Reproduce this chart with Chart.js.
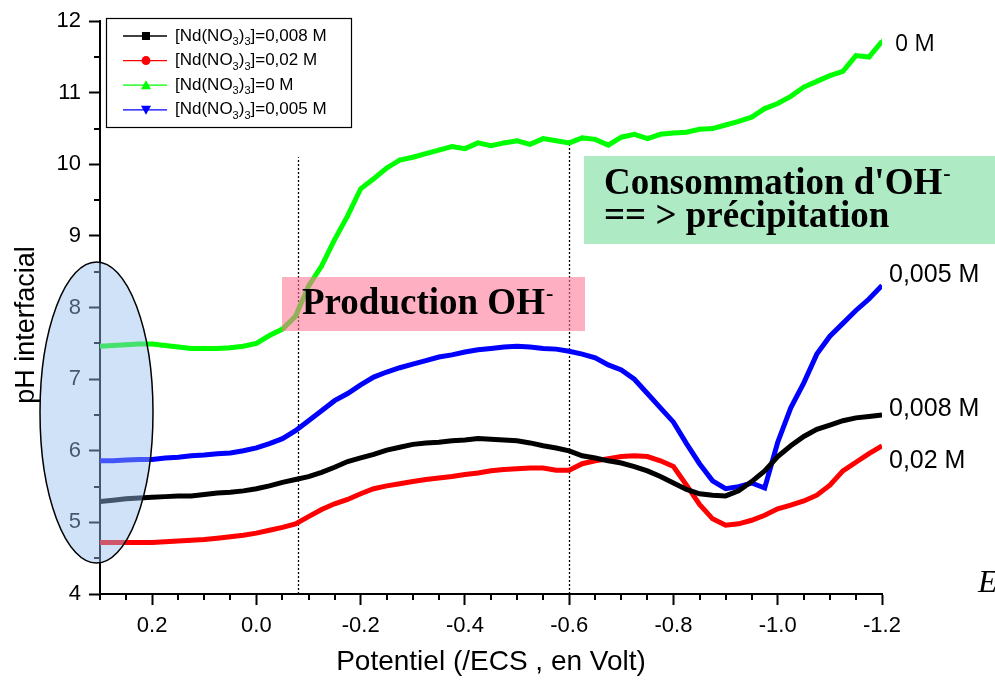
<!DOCTYPE html>
<html>
<head>
<meta charset="utf-8">
<script src="https://cdn.jsdelivr.net/npm/chart.js@4.4.1/dist/chart.umd.min.js"></script>
<style>
  html, body { margin: 0; padding: 0; background: #fff; }
  canvas { display: block; }
</style>
</head>
<body>
<canvas id="c" width="995" height="683"></canvas>
<script>
// Applied potential (V vs SCE), cathodic sweep
const potentials = [
  0.3, 0.275, 0.25, 0.225, 0.2, 0.175, 0.15, 0.125, 0.1, 0.075, 0.05, 0.025, 0,
  -0.025, -0.05, -0.075, -0.1, -0.125, -0.15, -0.175, -0.2, -0.225, -0.25, -0.275, -0.3,
  -0.325, -0.35, -0.375, -0.4, -0.425, -0.45, -0.475, -0.5, -0.525, -0.55, -0.575, -0.6,
  -0.625, -0.65, -0.675, -0.7, -0.725, -0.75, -0.775, -0.8, -0.825, -0.85, -0.875, -0.9,
  -0.925, -0.95, -0.975, -1.0, -1.025, -1.05, -1.075, -1.1, -1.125, -1.15, -1.175, -1.2
];

// Interfacial pH for each Nd(NO3)3 concentration
const ph0008 = [
  5.29, 5.31, 5.33, 5.34, 5.35, 5.36, 5.37, 5.37, 5.39, 5.41, 5.42, 5.44, 5.47,
  5.51, 5.56, 5.60, 5.64, 5.70, 5.77, 5.85, 5.90, 5.95, 6.01, 6.05, 6.09,
  6.11, 6.12, 6.14, 6.15, 6.17, 6.16, 6.15, 6.14, 6.11, 6.07, 6.04, 6.00,
  5.93, 5.90, 5.86, 5.83, 5.78, 5.72, 5.64, 5.55, 5.46, 5.40, 5.38, 5.37,
  5.44, 5.57, 5.72, 5.92, 6.07, 6.20, 6.30, 6.36, 6.42, 6.46, 6.48, 6.50
];
const ph002 = [
  4.72, 4.72, 4.72, 4.72, 4.72, 4.73, 4.74, 4.75, 4.76, 4.78, 4.80, 4.82, 4.85,
  4.89, 4.93, 4.98, 5.08, 5.18, 5.26, 5.32, 5.40, 5.47, 5.51, 5.54, 5.57,
  5.60, 5.62, 5.64, 5.67, 5.69, 5.72, 5.74, 5.75, 5.76, 5.76, 5.73, 5.73,
  5.82, 5.86, 5.89, 5.92, 5.93, 5.92, 5.86, 5.78, 5.52, 5.25, 5.05, 4.96,
  4.98, 5.03, 5.10, 5.19, 5.24, 5.30, 5.38, 5.52, 5.72, 5.84, 5.96, 6.07
];
const ph0 = [
  7.46, 7.47, 7.48, 7.49, 7.49, 7.47, 7.45, 7.43, 7.43, 7.43, 7.44, 7.46, 7.50,
  7.61, 7.70, 7.88, 8.30, 8.58, 8.95, 9.28, 9.66, 9.80, 9.95, 10.06, 10.10,
  10.15, 10.20, 10.25, 10.22, 10.30, 10.26, 10.30, 10.33, 10.28, 10.36, 10.33, 10.30,
  10.37, 10.35, 10.27, 10.38, 10.42, 10.36, 10.42, 10.44, 10.45, 10.49, 10.50, 10.55,
  10.60, 10.66, 10.78, 10.85, 10.95, 11.08, 11.16, 11.24, 11.30, 11.52, 11.50, 11.72
];
const ph0005 = [
  5.86, 5.86, 5.87, 5.88, 5.88, 5.90, 5.91, 5.93, 5.94, 5.96, 5.97, 6.00, 6.04,
  6.10, 6.17, 6.28, 6.42, 6.56, 6.70, 6.80, 6.92, 7.03, 7.10, 7.16, 7.21,
  7.26, 7.31, 7.34, 7.38, 7.41, 7.43, 7.45, 7.46, 7.45, 7.43, 7.42, 7.39,
  7.35, 7.30, 7.20, 7.13, 7.00, 6.80, 6.60, 6.40, 6.10, 5.82, 5.58, 5.47,
  5.50, 5.55, 5.48, 6.12, 6.60, 6.95, 7.35, 7.60, 7.78, 7.96, 8.12, 8.31
];

// Concentrations (M), in legend order
const concentrations = ['0,008', '0,02', '0', '0,005'];

// Axis ticks
const xMajorTicks = [0.2, 0.0, -0.2, -0.4, -0.6, -0.8, -1.0, -1.2];
const xMinorTicks = [0.3, 0.25, 0.15, 0.1, 0.05, -0.05, -0.1, -0.15, -0.25, -0.3, -0.35, -0.45, -0.5, -0.55,
  -0.65, -0.7, -0.75, -0.85, -0.9, -0.95, -1.05, -1.1, -1.15];
const yMajorTicks = [4, 5, 6, 7, 8, 9, 10, 11, 12];
const yMinorTicks = [4.5, 5.5, 6.5, 7.5, 8.5, 9.5, 10.5, 11.5];

const seriesValues = [ph0008, ph002, ph0, ph0005];
const seriesStyle = [
  { color: '#000000', marker: 'rect' },
  { color: '#ff0000', marker: 'circle' },
  { color: '#00ff00', marker: 'triangle' },
  { color: '#0000ff', marker: 'triangleDown' }
];

const SANS = "'Liberation Sans', Arial, sans-serif";
const SERIF = "'Liberation Serif', 'Times New Roman', serif";

function drawMarker(ctx, kind, cx, cy, color) {
  ctx.fillStyle = color;
  ctx.beginPath();
  if (kind === 'rect') {
    ctx.rect(cx - 4, cy - 4, 8, 8);
  } else if (kind === 'circle') {
    ctx.arc(cx, cy, 4.5, 0, Math.PI * 2);
  } else if (kind === 'triangle') {
    ctx.moveTo(cx, cy - 5); ctx.lineTo(cx + 5, cy + 4); ctx.lineTo(cx - 5, cy + 4); ctx.closePath();
  } else {
    ctx.moveTo(cx, cy + 5); ctx.lineTo(cx + 5, cy - 4); ctx.lineTo(cx - 5, cy - 4); ctx.closePath();
  }
  ctx.fill();
}

// Text followed by a raised superscript
function textWithSup(ctx, main, sup, x, y, font, supFont, dy) {
  ctx.font = font;
  ctx.fillText(main, x, y);
  const w = ctx.measureText(main).width;
  ctx.font = supFont;
  ctx.fillText(sup, x + w + 1, y - dy);
}

const decor = {
  id: 'decor',
  beforeDatasetsDraw(chart) {
    const { ctx, scales: { x, y } } = chart;
    ctx.save();
    ctx.strokeStyle = '#000';
    ctx.lineWidth = 1.3;
    ctx.setLineDash([2, 2]);
    [{ at: -0.08, top: 10.1 }, { at: -0.6, top: 10.3 }].forEach(g => {
      const px = Math.round(x.getPixelForValue(g.at)) + 0.5;
      ctx.beginPath();
      ctx.moveTo(px, y.getPixelForValue(4));
      ctx.lineTo(px, y.getPixelForValue(g.top));
      ctx.stroke();
    });
    ctx.restore();
  },
  afterDatasetsDraw(chart) {
    const { ctx } = chart;
    ctx.save();

    // "Production OH-" band (translucent, lies over the curve)
    ctx.fillStyle = 'rgba(255,118,150,0.58)';
    ctx.fillRect(282, 277, 303, 54);
    ctx.fillStyle = '#000';
    ctx.textBaseline = 'alphabetic';
    ctx.textAlign = 'left';
    textWithSup(ctx, 'Production OH', '-', 302, 314, 'bold 37px ' + SERIF, 'bold 22px ' + SERIF, 14);

    // "Consommation d'OH- == > précipitation" band
    ctx.fillStyle = '#aeeac4';
    ctx.fillRect(584, 156, 420, 88);
    ctx.fillStyle = '#000';
    textWithSup(ctx, "Consommation d'OH", '-', 604, 194, 'bold 37px ' + SERIF, 'bold 22px ' + SERIF, 14);
    ctx.font = 'bold 37px ' + SERIF;
    ctx.fillText('== > précipitation', 604, 227);

    // Concentration labels at the right end of the curves
    ctx.textBaseline = 'middle';
    ctx.font = "23px 'Open Sans', " + SANS;
    ctx.fillText(concentrations[2] + ' M', 895, 44);
    ctx.font = '25px ' + SANS;
    ctx.fillText(concentrations[3] + ' M', 889, 275);
    ctx.fillText(concentrations[0] + ' M', 889, 409);
    ctx.fillText(concentrations[1] + ' M', 889, 461);

    // Partially visible symbol at the lower right edge
    ctx.textBaseline = 'alphabetic';
    ctx.font = 'italic 32px ' + SERIF;
    ctx.fillText('E', 978, 592);

    // Legend
    ctx.fillStyle = '#fff';
    ctx.fillRect(106, 18, 246, 110);
    ctx.strokeStyle = '#000';
    ctx.lineWidth = 1.2;
    ctx.strokeRect(106.5, 18.5, 245, 109);
    concentrations.forEach((c, i) => {
      const cy = 36 + i * 24.6;
      const st = seriesStyle[i];
      ctx.strokeStyle = st.color;
      ctx.lineWidth = 1.3;
      ctx.beginPath();
      ctx.moveTo(123, cy); ctx.lineTo(167, cy);
      ctx.stroke();
      drawMarker(ctx, st.marker, 146, cy, st.color);
      ctx.fillStyle = '#000';
      ctx.textBaseline = 'middle';
      let tx = 175;
      const parts = [['[Nd(NO', 0], ['3', 1], [')', 0], ['3', 1], [']=' + c + ' M', 0]];
      parts.forEach(([t, sub]) => {
        ctx.font = sub ? '11px ' + SANS : '17px ' + SANS;
        ctx.fillText(t, tx, sub ? cy + 6 : cy);
        tx += ctx.measureText(t).width;
      });
    });
    ctx.restore();
  },
  afterDraw(chart) {
    const { ctx, scales: { x, y } } = chart;
    ctx.save();
    ctx.strokeStyle = '#000';
    ctx.lineWidth = 2;
    const yb = y.getPixelForValue(4);
    xMinorTicks.forEach(v => {
      const px = Math.round(x.getPixelForValue(v));
      ctx.beginPath(); ctx.moveTo(px, yb); ctx.lineTo(px, yb + 6); ctx.stroke();
    });
    const xl = x.getPixelForValue(0.3);
    yMinorTicks.forEach(v => {
      const py = Math.round(y.getPixelForValue(v));
      ctx.beginPath(); ctx.moveTo(xl, py); ctx.lineTo(xl - 6, py); ctx.stroke();
    });

    // Highlight of the initial (open-circuit) pH values
    ctx.beginPath();
    ctx.ellipse(96.5, 412.5, 56.5, 150.5, 0, 0, Math.PI * 2);
    ctx.fillStyle = 'rgba(150,190,240,0.45)';
    ctx.fill();
    ctx.strokeStyle = '#000';
    ctx.lineWidth = 1.5;
    ctx.stroke();
    ctx.restore();
  }
};

const datasets = seriesValues.map((vals, i) => ({
  label: '[Nd(NO3)3]=' + concentrations[i] + ' M',
  data: potentials.map((p, k) => ({ x: p, y: vals[k] })),
  borderColor: seriesStyle[i].color,
  backgroundColor: seriesStyle[i].color,
  borderWidth: 5,
  pointRadius: seriesStyle[i].marker === 'triangle' ? 3 : 0,
  pointStyle: 'triangle',
  pointBorderWidth: 0,
  tension: 0
}));

new Chart(document.getElementById('c'), {
  type: 'line',
  data: { datasets },
  options: {
    responsive: false,
    animation: false,
    devicePixelRatio: 1,
    layout: { padding: { left: 0, top: 18, right: 113, bottom: 0 } },
    plugins: { legend: { display: false }, tooltip: { enabled: false } },
    scales: {
      x: {
        type: 'linear',
        min: -1.2,
        max: 0.3,
        reverse: true,
        afterBuildTicks: s => { s.ticks = xMajorTicks.map(v => ({ value: v })); },
        afterFit: s => { s.height = 89; },
        ticks: {
          autoSkip: false,
          maxRotation: 0,
          padding: 8,
          color: '#000',
          font: { family: SANS, size: 22 },
          callback: v => v.toFixed(1)
        },
        grid: { drawOnChartArea: false, drawTicks: true, tickLength: 11, tickWidth: 2, tickColor: '#000' },
        border: { display: true, color: '#000', width: 2 },
        title: {
          display: true,
          text: 'Potentiel (/ECS , en Volt)',
          color: '#000',
          font: { family: SANS, size: 28 },
          padding: { top: 0, bottom: 4 }
        }
      },
      y: {
        type: 'linear',
        min: 4,
        max: 12,
        afterBuildTicks: s => { s.ticks = yMajorTicks.map(v => ({ value: v })); },
        afterFit: s => { s.width = 100; },
        ticks: {
          padding: 8,
          color: '#000',
          font: { family: SANS, size: 22 },
          callback: v => String(v)
        },
        grid: { drawOnChartArea: false, drawTicks: true, tickLength: 11, tickWidth: 2, tickColor: '#000' },
        border: { display: true, color: '#000', width: 2 },
        title: { display: false }
      }
    }
  },
  plugins: [decor, {
    id: 'yTitle',
    afterDraw(chart) {
      const { ctx } = chart;
      ctx.save();
      ctx.translate(27, 325);
      ctx.rotate(-Math.PI / 2);
      ctx.textAlign = 'center';
      ctx.textBaseline = 'middle';
      ctx.fillStyle = '#000';
      ctx.font = '27px ' + SANS;
      ctx.fillText('pH interfacial', 0, 0);
      ctx.restore();
    }
  }]
});
</script>
</body>
</html>
